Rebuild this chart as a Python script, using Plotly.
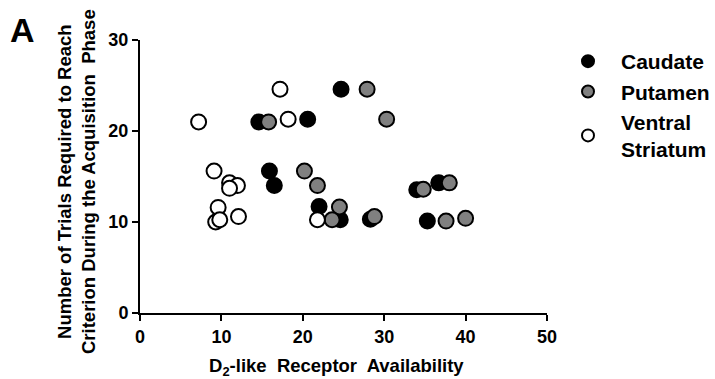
import plotly.graph_objects as go

# D2-like receptor availability (x) vs trials to criterion (y), by region
caudate_x = [14.6, 20.6, 24.7, 15.9, 16.5, 22.0, 24.6, 28.3, 34.0, 36.7, 35.3]
caudate_y = [21.0, 21.3, 24.6, 15.6, 14.0, 11.7, 10.25, 10.3, 13.55, 14.3, 10.1]

putamen_x = [15.8, 27.9, 30.3, 20.2, 21.8, 24.5, 23.6, 28.8, 34.8, 38.0, 37.6, 40.0]
putamen_y = [21.0, 24.6, 21.3, 15.6, 14.0, 11.65, 10.25, 10.6, 13.6, 14.3, 10.1, 10.4]

ventral_x = [7.2, 17.2, 18.2, 9.1, 11.0, 11.97, 11.0, 9.6, 9.3, 9.8, 12.1, 21.8]
ventral_y = [21.0, 24.6, 21.3, 15.6, 14.3, 14.0, 13.7, 11.6, 10.0, 10.25, 10.6, 10.25]

x_ticks = [0, 10, 20, 30, 40, 50]
y_ticks = [0, 10, 20, 30]

FONT = "Liberation Sans, Arial, sans-serif"

series = [
    ("Caudate", caudate_x, caudate_y, "#000000"),
    ("Putamen", putamen_x, putamen_y, "#808080"),
    ("Ventral<br>Striatum", ventral_x, ventral_y, "#ffffff"),
]

fig = go.Figure()
for i, (name, xs, ys, fill) in enumerate(series):
    fig.add_trace(go.Scatter(
        x=xs, y=ys, mode="markers", name=name, legendgroup=str(i),
        marker=dict(symbol="circle", size=15, color=fill,
                    line=dict(color="#000000", width=2)),
    ))

L, R, T, B = 140, 168, 40, 66
PLOT_W = 715 - L - R
PLOT_H = 379 - T - B


def px_x(p):
    return (p - L) / PLOT_W


def px_y(p):
    return 1 - (p - T) / PLOT_H


axis_common = dict(
    ticks="outside", ticklen=6, tickwidth=2, tickcolor="black",
    showline=True, linewidth=2, linecolor="black",
    showgrid=False, zeroline=False,
    tickfont=dict(family=FONT, size=18, weight="bold"),
)

fig.update_layout(
    width=715, height=379,
    margin=dict(l=L, r=R, t=T, b=B, autoexpand=False),
    paper_bgcolor="white", plot_bgcolor="white",
    font=dict(family=FONT, color="black"),
    showlegend=True,
    legend=dict(
        x=px_x(555), y=px_y(41), xanchor="left", yanchor="top",
        font=dict(family=FONT, size=21, weight="bold", color="black"),
        tracegroupgap=0, itemsizing="constant", itemwidth=56,
        bgcolor="rgba(0,0,0,0)",
    ),
    xaxis=dict(range=[0, 50], tickvals=x_ticks, **axis_common),
    yaxis=dict(range=[0, 30], tickvals=y_ticks, **axis_common),
    annotations=[
        dict(text="A", xref="paper", yref="paper",
             x=px_x(22), y=px_y(30), xanchor="center", yanchor="middle",
             showarrow=False,
             font=dict(family=FONT, size=34, weight="bold", color="black")),
        dict(text="D<sub>2</sub>-like  Receptor  Availability",
             xref="paper", yref="paper", x=px_x(336), y=px_y(367),
             xanchor="center", yanchor="middle", showarrow=False,
             font=dict(family=FONT, size=18.5, weight="bold", color="black")),
        dict(text="Number of Trials Required to Reach<br>"
                  "Criterion During the Acquisition  Phase",
             xref="paper", yref="paper", x=px_x(76), y=px_y(182),
             xanchor="center", yanchor="middle", textangle=-90,
             showarrow=False,
             font=dict(family=FONT, size=18.5, weight="bold", color="black")),
    ],
)

fig.write_html("out.html")
